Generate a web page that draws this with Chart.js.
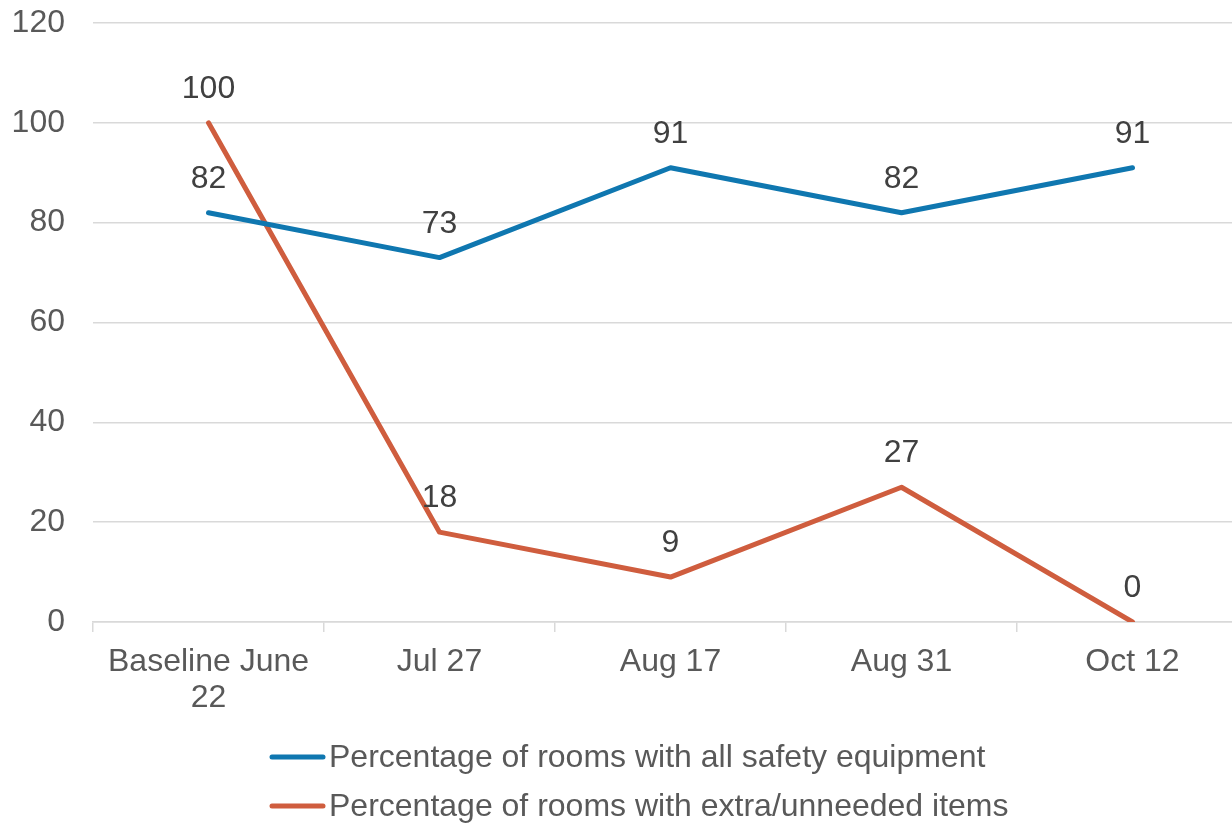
<!DOCTYPE html>
<html lang="en">

<head>
    <meta charset="UTF-8">
    <title>Room Safety Check</title>
    <style>
        html, body { margin: 0; padding: 0; background: #fff; overflow: hidden; }
        #wrap { width: 1248px; height: 825px; }
    </style>
</head>

<body>
    <div id="wrap">
        <canvas id="myChart" width="1248" height="825"></canvas>
    </div>

    <script src="https://cdn.jsdelivr.net/npm/chart.js"></script>

    <script>
        // chart data
        const categories = [['Baseline June', '22'], 'Jul 27', 'Aug 17', 'Aug 31', 'Oct 12'];
        const safetyEquipment = [82, 73, 91, 82, 91];
        const extraItems = [100, 18, 9, 27, 0];
        const seriesNames = [
            'Percentage of rooms with all safety equipment',
            'Percentage of rooms with extra/unneeded items'
        ];
        const yTicks = { min: 0, max: 120, step: 20 };

        const blue = '#0F77B0';
        const orange = '#CF5D3E';
        const fontFamily = '"Liberation Sans", Arial, sans-serif';

        // value labels above each point
        const valueLabels = {
            id: 'valueLabels',
            afterDatasetsDraw(chart) {
                const ctx = chart.ctx;
                ctx.save();
                ctx.font = '32px ' + fontFamily;
                ctx.fillStyle = '#404040';
                ctx.textAlign = 'center';
                ctx.textBaseline = 'alphabetic';
                chart.data.datasets.forEach((ds, i) => {
                    const meta = chart.getDatasetMeta(i);
                    meta.data.forEach((pt, j) => {
                        ctx.fillText(String(ds.data[j]), pt.x, pt.y - 25);
                    });
                });
                ctx.restore();
            }
        };

        // stacked legend under the axis
        const stackedLegend = {
            id: 'stackedLegend',
            afterDraw(chart) {
                const ctx = chart.ctx;
                const left = 270;
                const rows = [757, 806];
                ctx.save();
                ctx.font = '32px ' + fontFamily;
                ctx.textBaseline = 'middle';
                chart.data.datasets.forEach((ds, i) => {
                    const y = rows[i];
                    ctx.strokeStyle = ds.borderColor;
                    ctx.lineWidth = 5;
                    ctx.lineCap = 'round';
                    ctx.beginPath();
                    ctx.moveTo(left + 2, y);
                    ctx.lineTo(left + 53, y);
                    ctx.stroke();
                    ctx.fillStyle = '#595959';
                    ctx.textAlign = 'left';
                    ctx.fillText(ds.label, left + 59, y + 1);
                });
                ctx.restore();
            }
        };

        new Chart(document.getElementById('myChart'), {
            type: 'line',
            data: {
                labels: categories,
                datasets: [{
                    label: seriesNames[0],
                    data: safetyEquipment,
                    borderColor: blue,
                    backgroundColor: blue,
                    borderWidth: 5,
                    pointRadius: 0,
                    tension: 0,
                    borderCapStyle: 'round',
                    borderJoinStyle: 'round'
                }, {
                    label: seriesNames[1],
                    data: extraItems,
                    borderColor: orange,
                    backgroundColor: orange,
                    borderWidth: 5,
                    pointRadius: 0,
                    tension: 0,
                    borderCapStyle: 'round',
                    borderJoinStyle: 'round'
                }]
            },
            options: {
                responsive: false,
                animation: false,
                devicePixelRatio: 1,
                layout: { padding: { top: 23, right: 0, bottom: 0, left: 0 } },
                plugins: {
                    legend: { display: false },
                    tooltip: { enabled: false }
                },
                scales: {
                    x: {
                        offset: true,
                        grid: {
                            offset: true,
                            drawOnChartArea: false,
                            drawTicks: true,
                            tickLength: 10,
                            color: '#D9D9D9',
                            lineWidth: 1.5
                        },
                        border: { display: true, color: '#D9D9D9', width: 1.5 },
                        ticks: {
                            color: '#595959',
                            font: { family: fontFamily, size: 32, lineHeight: 1.1 },
                            padding: 13,
                            maxRotation: 0,
                            autoSkip: false
                        },
                        afterFit(scale) { scale.height = 203; }
                    },
                    y: {
                        min: yTicks.min,
                        max: yTicks.max,
                        ticks: {
                            stepSize: yTicks.step,
                            color: '#595959',
                            font: { family: fontFamily, size: 32 },
                            padding: 0
                        },
                        grid: {
                            color: '#D9D9D9',
                            lineWidth: 1.5,
                            drawTicks: true,
                            tickLength: 28,
                            tickColor: 'rgba(0,0,0,0)'
                        },
                        border: { display: false },
                        afterFit(scale) { scale.width = 93; }
                    }
                }
            },
            plugins: [valueLabels, stackedLegend]
        });
    </script>
</body>

</html>
